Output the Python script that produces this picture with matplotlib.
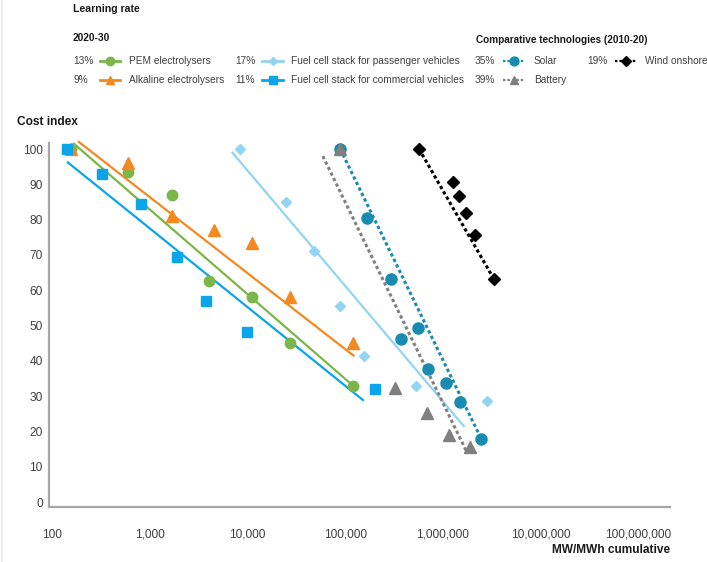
import matplotlib
matplotlib.use("Agg")
import matplotlib.pyplot as plt
from matplotlib.lines import Line2D
from matplotlib.ticker import FixedLocator, FuncFormatter, NullLocator

plt.rcParams['font.family'] = ['Liberation Sans', 'DejaVu Sans']

# ---------------- data ----------------
x_ticks = [1e2, 1e3, 1e4, 1e5, 1e6, 1e7, 1e8]
y_ticks = [0, 10, 20, 30, 40, 50, 60, 70, 80, 90, 100]

pem_x = [155, 600, 1700, 4000, 11200, 27500, 120000]
pem_y = [100, 93.5, 87, 62.5, 58, 45, 33]
pem_trend_x = [164, 120000]
pem_trend_y = [101.7, 33]

alk_x = [155, 600, 1700, 4500, 11200, 27500, 120000]
alk_y = [100, 96, 81, 77, 73.5, 58, 45]
alk_trend_x = [184, 124000]
alk_trend_y = [102.2, 41.3]

fcp_x = [8400, 25000, 48000, 89000, 156000, 535000, 2.8e6]
fcp_y = [100, 85, 71, 55.5, 41.5, 33, 28.5]
fcp_trend_x = [6900, 1.66e6]
fcp_trend_y = [99.2, 21.3]

fcc_x = [142, 325, 815, 1900, 3770, 9900, 200000]
fcc_y = [100, 92.8, 84.3, 69.3, 57, 48.3, 32]
fcc_trend_x = [142, 155000]
fcc_trend_y = [96.4, 28.7]

solar_x = [89000, 167000, 295000, 372000, 560000, 700000, 1.07e6, 1.5e6, 2.46e6]
solar_y = [100, 80.4, 63.2, 46.1, 49.2, 37.6, 33.7, 28.2, 18]
solar_trend_x = [89000, 2.46e6]
solar_trend_y = [100, 18]

battery_x = [89000, 324000, 680000, 1.15e6, 1.9e6]
battery_y = [100, 32.3, 25.1, 19.1, 15.7]
battery_trend_x = [59000, 1.74e6]
battery_trend_y = [98, 14.4]

wind_x = [570000, 1.26e6, 1.47e6, 1.74e6, 2.14e6, 3.3e6]
wind_y = [100, 90.6, 86.7, 81.8, 75.7, 63.3]
wind_trend_x = [570000, 3.3e6]
wind_trend_y = [100, 63.3]

names = ["PEM electrolysers", "Alkaline electrolysers",
         "Fuel cell stack for passenger vehicles", "Fuel cell stack for commercial vehicles",
         "Solar", "Battery", "Wind onshore"]
rates = ["13%", "9%", "17%", "11%", "35%", "39%", "19%"]

# ---------------- styles ----------------
W, H = 707, 562
DOT = (0, (1.1, 0.9))
styles = {
    "PEM electrolysers": dict(color="#7AB648", marker="o", ms=7.5, ls="-", lw=1.6),
    "Alkaline electrolysers": dict(color="#F5891F", marker="^", ms=8, ls="-", lw=1.6),
    "Fuel cell stack for passenger vehicles": dict(color="#92D5F2", marker="D", ms=5.2, ls="-", lw=1.6),
    "Fuel cell stack for commercial vehicles": dict(color="#0AA5EA", marker="s", ms=7.5, ls="-", lw=1.6),
    "Solar": dict(color="#1A8BB0", marker="o", ms=8, ls=DOT, lw=2.2),
    "Battery": dict(color="#808080", marker="^", ms=8, ls=DOT, lw=2.2),
    "Wind onshore": dict(color="#000000", marker="D", ms=6, ls=DOT, lw=2.2),
}

series = [
    ("PEM electrolysers", pem_x, pem_y, pem_trend_x, pem_trend_y),
    ("Alkaline electrolysers", alk_x, alk_y, alk_trend_x, alk_trend_y),
    ("Fuel cell stack for commercial vehicles", fcc_x, fcc_y, fcc_trend_x, fcc_trend_y),
    ("Fuel cell stack for passenger vehicles", fcp_x, fcp_y, fcp_trend_x, fcp_trend_y),
    ("Solar", solar_x, solar_y, solar_trend_x, solar_trend_y),
    ("Battery", battery_x, battery_y, battery_trend_x, battery_trend_y),
    ("Wind onshore", wind_x, wind_y, wind_trend_x, wind_trend_y),
]

fig = plt.figure(figsize=(W / 100, H / 100), dpi=100)
fig.patch.set_facecolor("white")


def fx(px):
    return px / W


def fy(py):
    return 1 - py / H


ax = fig.add_axes([fx(49), fy(507), (670 - 49) / W, (507 - 143) / H])
ax.set_xscale("log")
ax.set_xlim(93, 2.11e8)
ax.set_ylim(-1.4, 101.7)

z = 3
for name, xs, ys, tx, ty in series:
    st = styles[name]
    ax.plot(tx, ty, color=st["color"], ls=st["ls"], lw=st["lw"], clip_on=False,
            zorder=2, solid_capstyle="butt", dash_capstyle="butt")
    ax.plot(xs, ys, ls="none", marker=st["marker"], ms=st["ms"], color=st["color"],
            mec=st["color"], clip_on=False, zorder=z)
    z += 1

ax.xaxis.set_major_locator(FixedLocator(x_ticks))
ax.xaxis.set_minor_locator(NullLocator())
ax.xaxis.set_major_formatter(FuncFormatter(lambda v, p: f"{int(round(v)):,}"))
ax.yaxis.set_major_locator(FixedLocator(y_ticks))
ax.yaxis.set_major_formatter(FuncFormatter(lambda v, p: f"{int(v)}"))
ax.tick_params(axis="both", length=0, labelsize=8.6, colors="#404040")
ax.tick_params(axis="x", pad=15.5)
ax.tick_params(axis="y", pad=4.5)
for s in ("top", "right"):
    ax.spines[s].set_visible(False)
for s in ("left", "bottom"):
    ax.spines[s].set_color("#A6A6A6")
    ax.spines[s].set_linewidth(1.6)

# axis titles
fig.text(fx(17), fy(122), "Cost index", fontsize=8.6, fontweight="bold",
         color="#1a1a1a", ha="left", va="center")
fig.text(fx(670), fy(550), "MW/MWh cumulative", fontsize=8.6, fontweight="bold",
         color="#1a1a1a", ha="right", va="center")

# legend block
fig.text(fx(73), fy(9), "Learning rate", fontsize=7.6, fontweight="bold",
         color="#1a1a1a", ha="left", va="center")
fig.text(fx(73), fy(38), "2020-30", fontsize=7.4, fontweight="bold", color="#1a1a1a",
         ha="left", va="center")
fig.text(fx(476), fy(40), "Comparative technologies (2010-20)", fontsize=7.2,
         fontweight="bold", color="#1a1a1a", ha="left", va="center")

legend_slots = [
    # (name index, rate x, line x0, line x1, label x, row y)
    (0, 73, 100, 120, 129, 61),
    (1, 73, 100, 120, 129, 80),
    (2, 235, 262, 283, 291, 61),
    (3, 235, 262, 283, 291, 80),
    (4, 475, 503, 525, 534, 61),
    (5, 475, 503, 525, 534, 80),
    (6, 587, 615, 637, 645, 61),
]
for i, rx, l0, l1, lx, ry in legend_slots:
    name = names[i]
    st = styles[name]
    fig.text(fx(rx), fy(ry), rates[i], fontsize=7.3, color="#404040", ha="left", va="center")
    lw = 2 if st["ls"] == "-" else 1.6
    fig.add_artist(Line2D([fx(l0), fx(l1)], [fy(ry), fy(ry)], transform=fig.transFigure,
                          color=st["color"], ls=st["ls"], lw=lw))
    fig.add_artist(Line2D([fx((l0 + l1) / 2)], [fy(ry)], transform=fig.transFigure,
                          ls="none", marker=st["marker"], ms=st["ms"] * 0.8,
                          color=st["color"]))
    fig.text(fx(lx), fy(ry), name, fontsize=7.3, color="#404040", ha="left", va="center")

# faint frame edge on the left
fig.add_artist(Line2D([fx(1.5), fx(1.5)], [0, 1], transform=fig.transFigure,
                      color="#E3E8EE", lw=1.2))

fig.savefig("out.png", dpi=100)
